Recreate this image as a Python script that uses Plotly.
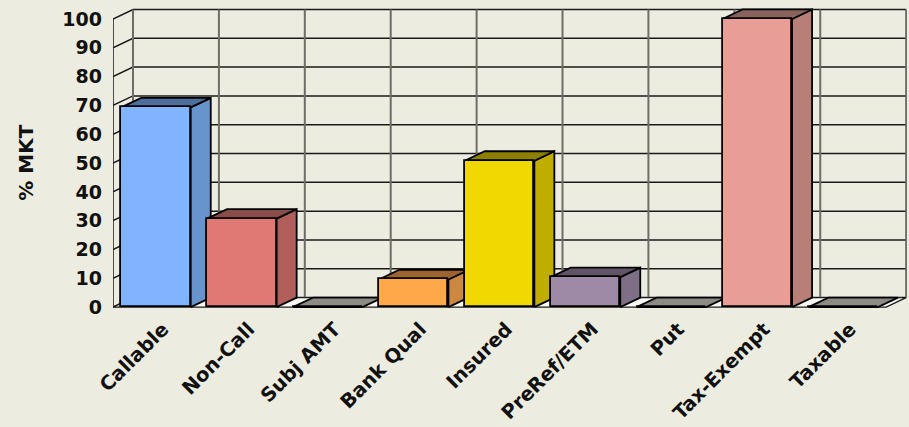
import plotly.graph_objects as go

# Portfolio composition, percent of market value
categories = ["Callable", "Non-Call", "Subj AMT", "Bank Qual", "Insured",
              "PreRef/ETM", "Put", "Tax-Exempt", "Taxable"]
pct_mkt = [69.3, 30.7, 0, 9.6, 50.8, 10.4, 0, 100, 0]
front_colors = ["#80B4FF", "#E07873", "#8C8C84", "#FFA84A", "#F0D800",
                "#9E8AA6", "#8C8C84", "#E89E96", "#8C8C84"]
side_colors = ["#6794CC", "#B05F5B", "#70706A", "#CC8840", "#BFAE00",
               "#7E6F86", "#70706A", "#B87E78", "#70706A"]
top_colors = ["#4E6E9E", "#8A4C48", "#8C8C84", "#9C6430", "#8C8000",
              "#615466", "#8C8C84", "#8A625C", "#8C8C84"]
y_ticks = list(range(0, 101, 10))

BG = "#ECECE0"
BAR_W = 0.81          # bar width in category units
DX = 0.2327           # depth offset along x (category units)
DY = 3.3              # depth offset along y (percent units)
X_LO, X_HI = -0.5, len(categories) - 0.5
X_RANGE = [X_LO, X_HI + DX + 0.01]
Y_RANGE = [-1, 104.5]
EDGE = 1.8

fig = go.Figure()


def poly(xs, ys, fill, axes, line_color="black", width=EDGE):
    fig.add_trace(go.Scatter(
        x=xs + [xs[0]], y=ys + [ys[0]], mode="lines", fill="toself",
        fillcolor=fill, line=dict(color=line_color, width=width),
        xaxis=axes[0], yaxis=axes[1], hoverinfo="skip", showlegend=False))


def seg(xs, ys, color, width):
    fig.add_trace(go.Scatter(
        x=xs, y=ys, mode="lines", line=dict(color=color, width=width),
        hoverinfo="skip", showlegend=False))


# --- layer 1: walls and floor ---
# horizontal gridlines on the back wall, with diagonals on the left wall
for v in y_ticks:
    seg([X_LO, X_LO + DX, X_HI + DX], [v, v + DY, v + DY], "#1a1a1a", 1.5)
# vertical lines on the back wall at category boundaries
for k in range(len(categories) + 1):
    seg([X_LO + k + DX] * 2, [DY, 100 + DY], "#6e6e66", 2)
# left wall front edge
seg([X_LO, X_LO], [0, 100], "#1a1a1a", 1.5)
# floor
poly([X_LO, X_HI, X_HI + DX, X_LO + DX], [0, 0, DY, DY], "#FAFAF4",
     ("x", "y"), "#1a1a1a", 1.2)

# --- layer 2: side and top faces of each bar ---
for i, v in enumerate(pct_mkt):
    x0, x1 = i - BAR_W / 2, i + BAR_W / 2
    if v > 0:
        poly([x1, x1 + DX, x1 + DX, x1], [0, DY, v + DY, v],
             side_colors[i], ("x2", "y2"))
    poly([x0, x1, x1 + DX, x0 + DX], [v, v, v + DY, v + DY],
         top_colors[i], ("x2", "y2"))

# --- layer 3: front faces ---
fig.add_trace(go.Bar(
    x=list(range(len(categories))), y=pct_mkt, width=BAR_W,
    marker=dict(color=front_colors, line=dict(color="black", width=EDGE)),
    xaxis="x3", yaxis="y3", hoverinfo="skip", showlegend=False))

fig.add_annotation(
    text="% MKT", textangle=-90, xref="paper", yref="y",
    x=-0.11, y=50, xanchor="center", yanchor="middle", showarrow=False,
    font=dict(family="DejaVu Sans", size=20, color="#111111", weight="bold"))

hidden = dict(visible=False, fixedrange=True)
fig.update_layout(
    width=909, height=427,
    margin=dict(l=113, r=2, t=6, b=117),
    paper_bgcolor=BG, plot_bgcolor=BG,
    bargap=0,
    xaxis=dict(
        range=X_RANGE, tickvals=list(range(len(categories))),
        ticktext=categories, tickangle=-45, showgrid=False, zeroline=False,
        showline=False, ticks="", fixedrange=True,
        ticklabelshift=7, ticklabelstandoff=3,
        tickfont=dict(family="DejaVu Sans", size=19.5, color="#111111",
                      weight="bold")),
    yaxis=dict(
        range=Y_RANGE, tickvals=y_ticks, showgrid=False, zeroline=False,
        showline=False, ticks="", ticklabelstandoff=10, fixedrange=True,
        tickfont=dict(family="DejaVu Sans", size=19, color="#111111",
                      weight="bold")),
    xaxis2=dict(range=X_RANGE, overlaying="x", **hidden),
    yaxis2=dict(range=Y_RANGE, overlaying="y", **hidden),
    xaxis3=dict(range=X_RANGE, overlaying="x", **hidden),
    yaxis3=dict(range=Y_RANGE, overlaying="y", **hidden),
)

fig.write_html("out.html")
